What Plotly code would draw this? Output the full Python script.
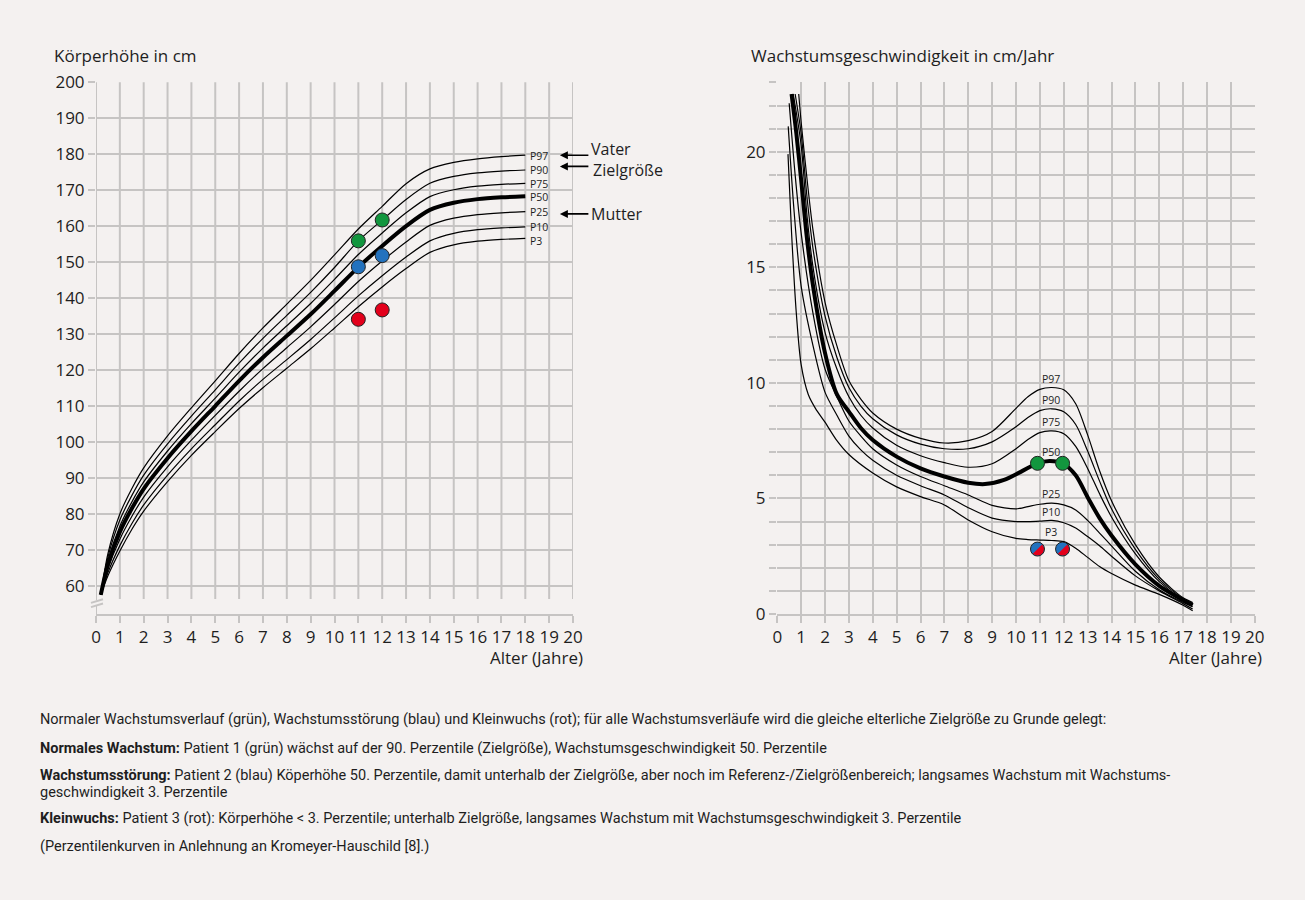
import math
import plotly.graph_objects as go

# ---------------- colours / fonts ----------------
BG = "#f4f1f0"
GRID = "#c6c4c3"
TXT = "#1e1e1e"
GREEN = "#12963e"
BLUE = "#2372be"
RED = "#e3001b"
FONT = "Open Sans"
CAP_FONT = "Roboto"

# ---------------- data: Körperhöhe (left) ----------------
AGE_H = [0.2, 0.5, 1, 1.5, 2, 3, 4, 5, 6, 7, 8, 9, 10, 11, 12, 13, 14, 15, 16, 17, 18]
H_P97 = [57.5, 69, 80, 87, 92.8, 101.7, 109.5, 117, 124.6, 131.7, 138.3, 144.9, 152, 159.2, 165.5, 171.8, 175.9, 177.7, 178.7, 179.3, 179.7]
H_P90 = [57.5, 68, 78.3, 85.1, 90.8, 99.5, 107.2, 114.5, 121.9, 128.8, 135.2, 141.6, 148.5, 155.9, 161.7, 167.4, 171.9, 173.8, 174.8, 175.3, 175.6]
H_P75 = [57.5, 67, 76.6, 83.3, 88.9, 97.5, 105.1, 112.2, 119.4, 126.1, 132.3, 138.5, 145.2, 152.1, 158.1, 163.7, 168.2, 170.1, 171.1, 171.6, 171.9]
H_P50 = [57.5, 66, 75, 81.5, 87, 95.5, 103, 110, 117, 123.5, 129.5, 135.5, 142, 148.6, 154.5, 160, 164.5, 166.5, 167.5, 168, 168.3]
H_P25 = [57.5, 64.8, 73, 79.3, 84.7, 93.1, 100.5, 107.4, 114.1, 120.4, 126.2, 132, 138.2, 144.6, 150.3, 155.6, 160.2, 162.2, 163.2, 163.7, 164]
H_P10 = [57.5, 63.7, 71.2, 77.3, 82.5, 90.8, 98.1, 104.8, 111.4, 117.4, 122.9, 128.5, 134.5, 140.6, 146.2, 151.4, 155.9, 158, 159, 159.5, 159.8]
H_P3 = [57.5, 62.8, 69.7, 75.7, 80.8, 89, 96.3, 102.9, 109.3, 115.1, 120.5, 125.9, 131.7, 137.6, 143.1, 148.2, 152.7, 154.8, 155.8, 156.3, 156.6]
H_CURVES = [("P97", H_P97), ("P90", H_P90), ("P75", H_P75), ("P50", H_P50),
            ("P25", H_P25), ("P10", H_P10), ("P3", H_P3)]
H_LABEL_Y = [179.5, 175.6, 171.7, 168.1, 163.9, 159.8, 156.0]

# patients (height)
PAT_AGE = [11, 12]
PAT_GREEN_H = [155.9, 161.7]
PAT_BLUE_H = [148.7, 151.8]
PAT_RED_H = [134.1, 136.7]

# parents
PARENT_NAMES = ["Vater", "Zielgröße", "Mutter"]
PARENT_H = [179.7, 176.6, 163.4]

# ---------------- data: Wachstumsgeschwindigkeit (right) ----------------
V_P97_AGE = [0.9, 1.0, 1.25, 1.5, 2, 2.5, 3, 3.5, 4, 5, 6, 7, 8, 9, 10, 10.5, 11, 11.5, 12, 12.5, 13, 13.5, 14, 15, 16, 17, 17.4]
V_P97 = [22.5, 21.3, 18.8, 16.6, 13.5, 11.6, 10.1, 9.3, 8.7, 8.0, 7.6, 7.4, 7.5, 7.9, 8.9, 9.4, 9.72, 9.8, 9.7, 9.1, 7.75, 6.2, 4.9, 3.0, 1.6, 0.7, 0.5]
V_P90_AGE = [0.75, 1.0, 1.25, 1.5, 2, 2.5, 3, 3.5, 4, 5, 6, 7, 8, 9, 10, 10.5, 11, 11.5, 12, 12.5, 13, 13.5, 14, 15, 16, 17, 17.4]
V_P90 = [22.5, 20.8, 18.0, 15.8, 12.9, 11.1, 9.8, 9.0, 8.45, 7.75, 7.35, 7.15, 7.15, 7.45, 8.1, 8.5, 8.8, 8.88, 8.75, 8.2, 7.05, 5.75, 4.55, 2.8, 1.5, 0.66, 0.46]
V_P75_AGE = [0.67, 1.0, 1.25, 1.5, 2, 2.5, 3, 3.5, 4, 5, 6, 7, 8, 9, 10, 10.5, 11, 11.5, 12, 12.5, 13, 13.5, 14, 15, 16, 17, 17.4]
V_P75 = [22.5, 20.3, 17.2, 15.0, 12.2, 10.6, 9.4, 8.6, 8.05, 7.3, 6.85, 6.55, 6.35, 6.5, 7.15, 7.55, 7.85, 7.92, 7.8, 7.25, 6.3, 5.2, 4.2, 2.6, 1.4, 0.62, 0.43]
V_P50_AGE = [0.6, 0.8, 1.0, 1.25, 1.5, 2, 2.5, 3, 3.5, 4, 5, 6, 7, 8, 8.7, 9.5, 10.2, 10.9, 11.4, 11.95, 12.5, 13, 13.5, 14, 15, 16, 17, 17.4]
V_P50 = [22.5, 20.8, 18.8, 16.2, 14.2, 11.3, 9.5, 8.76, 8.05, 7.53, 6.81, 6.3, 5.95, 5.68, 5.62, 5.8, 6.15, 6.52, 6.62, 6.52, 6.0, 5.05, 4.15, 3.4, 2.15, 1.22, 0.6, 0.38]
V_P25_AGE = [0.5, 0.75, 1.0, 1.5, 2, 2.5, 3, 3.5, 4, 5, 6, 7, 8, 9, 10, 10.5, 11, 11.5, 12, 12.5, 13, 13.5, 14, 15, 16, 17, 17.4]
V_P25 = [22.1, 19.0, 16.5, 13.0, 10.6, 9.4, 8.35, 7.7, 7.15, 6.45, 5.95, 5.55, 5.15, 4.7, 4.55, 4.65, 4.75, 4.8, 4.72, 4.5, 4.05, 3.5, 2.95, 1.85, 1.05, 0.5, 0.32]
V_P10_AGE = [0.46, 0.7, 1.0, 1.5, 2, 2.5, 3, 3.5, 4, 5, 6, 7, 8, 9, 10, 10.5, 11, 11.5, 12, 12.5, 13, 13.5, 14, 15, 16, 17, 17.4]
V_P10 = [21.1, 17.5, 14.2, 11.6, 9.6, 8.6, 7.7, 7.1, 6.65, 6.0, 5.55, 5.15, 4.6, 4.15, 4.0, 4.0, 4.02, 4.05, 3.95, 3.72, 3.35, 2.95, 2.5, 1.65, 1.0, 0.45, 0.22]
V_P3_AGE = [0.45, 0.6, 0.8, 1.0, 1.3, 1.6, 2, 2.5, 3, 4, 5, 6, 7, 8, 9, 10, 10.5, 11, 11.5, 12, 12.5, 13, 13.5, 14, 15, 16, 17, 17.4]
V_P3 = [19.9, 16.5, 13.0, 10.8, 9.5, 8.9, 8.3, 7.5, 6.9, 6.1, 5.5, 5.08, 4.72, 4.07, 3.56, 3.27, 3.22, 3.2, 3.18, 3.13, 2.85, 2.45, 2.05, 1.75, 1.25, 0.85, 0.38, 0.14]
V_CURVES = [("P97", V_P97_AGE, V_P97), ("P90", V_P90_AGE, V_P90), ("P75", V_P75_AGE, V_P75),
            ("P50", V_P50_AGE, V_P50), ("P25", V_P25_AGE, V_P25), ("P10", V_P10_AGE, V_P10),
            ("P3", V_P3_AGE, V_P3)]
V_LABEL_AGE = 11.45

# patients (velocity)
VPAT_AGE = [10.9, 11.95]
VPAT_GREEN = [6.52, 6.52]
VPAT_BLUE_RED = [2.81, 2.81]

# ---------------- ticks ----------------
X_TICKS = list(range(0, 21))
H_TICKS = list(range(60, 201, 10))
V_TICKS = list(range(0, 24))
V_TICKTEXT = [str(v) if v % 5 == 0 else "" for v in V_TICKS]

CAPTION = [
    "Normaler Wachstumsverlauf (grün), Wachstumsstörung (blau) und Kleinwuchs (rot); für alle Wachstumsverläufe wird die gleiche elterliche Zielgröße zu Grunde gelegt:",
    "<b>Normales Wachstum:</b> Patient 1 (grün) wächst auf der 90. Perzentile (Zielgröße), Wachstumsgeschwindigkeit 50. Perzentile",
    "<b>Wachstumsstörung:</b> Patient 2 (blau) Köperhöhe 50. Perzentile, damit unterhalb der Zielgröße, aber noch im Referenz-/Zielgrößenbereich; langsames Wachstum mit Wachstums-",
    "geschwindigkeit 3. Perzentile",
    "<b>Kleinwuchs:</b> Patient 3 (rot): Körperhöhe &lt; 3. Perzentile; unterhalb Zielgröße, langsames Wachstum mit Wachstumsgeschwindigkeit 3. Perzentile",
    "(Perzentilenkurven in Anlehnung an Kromeyer-Hauschild [8].)",
]
CAPTION_YPX = [719, 748, 775, 792, 818, 846]

# ---------------- layout geometry ----------------
W, H = 1305, 900
L_DOM = [96 / W, 573 / W]
R_DOM = [777 / W, 1255 / W]
Y_DOM = [(H - 614) / H, (H - 82) / H]
H_RANGE = [52.2, 200.05]
V_RANGE = [0, 23.02]

fig = go.Figure()

# ---- left curves
for name, vals in H_CURVES:
    fig.add_trace(go.Scatter(x=AGE_H, y=vals, mode="lines", xaxis="x", yaxis="y",
                             line=dict(color="black", width=4 if name == "P50" else 1.2,
                                       shape="spline", smoothing=0.8),
                             hoverinfo="skip"))
for ys, col in [(PAT_GREEN_H, GREEN), (PAT_BLUE_H, BLUE), (PAT_RED_H, RED)]:
    fig.add_trace(go.Scatter(x=PAT_AGE, y=ys, mode="markers", xaxis="x", yaxis="y",
                             marker=dict(size=14, color=col, line=dict(color="#222", width=1))))

# ---- right curves
for name, ages, vals in V_CURVES:
    fig.add_trace(go.Scatter(x=ages, y=vals, mode="lines", xaxis="x2", yaxis="y2",
                             line=dict(color="black", width=4 if name == "P50" else 1.2,
                                       shape="spline", smoothing=0.8),
                             hoverinfo="skip"))
fig.add_trace(go.Scatter(x=VPAT_AGE, y=VPAT_GREEN, mode="markers", xaxis="x2", yaxis="y2",
                         marker=dict(size=14, color=GREEN, line=dict(color="#222", width=1))))
fig.add_trace(go.Scatter(x=VPAT_AGE, y=VPAT_BLUE_RED, mode="markers", xaxis="x2", yaxis="y2",
                         marker=dict(size=14, color=BLUE, line=dict(width=0))))
# red lower-right half of the split dots
px_per_x = (R_DOM[1] - R_DOM[0]) * W / 20.02
px_per_y = (Y_DOM[1] - Y_DOM[0]) * H / (V_RANGE[1] - V_RANGE[0])
r_px = 6.6
for cx, cy in zip(VPAT_AGE, VPAT_BLUE_RED):
    xs, ys = [], []
    for k in range(25):
        a = math.radians(45 - 180 * k / 24)
        xs.append(cx + r_px * math.cos(a) / px_per_x)
        ys.append(cy + r_px * math.sin(a) / px_per_y)
    fig.add_trace(go.Scatter(x=xs, y=ys, mode="lines", fill="toself", fillcolor=RED,
                             line=dict(width=0, color=RED), xaxis="x2", yaxis="y2",
                             hoverinfo="skip"))
fig.add_trace(go.Scatter(x=VPAT_AGE, y=VPAT_BLUE_RED, mode="markers", xaxis="x2", yaxis="y2",
                         marker=dict(size=14, color="rgba(0,0,0,0)", line=dict(color="#222", width=1))))

# ---------------- shapes: left vertical grid with axis break ----------------
shapes = []
for xv in X_TICKS:
    if xv == 0:
        shapes.append(dict(type="line", xref="x", yref="y", x0=0, x1=0, y0=56.0, y1=200,
                           line=dict(color=GRID, width=2), layer="below"))
        shapes.append(dict(type="line", xref="x", yref="y", x0=0, x1=0, y0=H_RANGE[0], y1=54.5,
                           line=dict(color=GRID, width=2), layer="below"))
    else:
        shapes.append(dict(type="line", xref="x", yref="y", x0=xv, x1=xv, y0=56.4, y1=200,
                           line=dict(color=GRID, width=2), layer="below"))
for y0b in [54.1, 55.3]:
    shapes.append(dict(type="line", xref="paper", yref="y", x0=91 / W, x1=103 / W,
                       y0=y0b, y1=y0b + 1.0, line=dict(color=GRID, width=2)))

# ---------------- annotations ----------------
def py(ypx):
    return (H - ypx) / H

ann = []
ann.append(dict(text="Körperhöhe in cm", xref="paper", yref="paper", x=52 / W, y=py(55),
                xanchor="left", yanchor="middle", showarrow=False, font=dict(size=17, color=TXT)))
ann.append(dict(text="Wachstumsgeschwindigkeit in cm/Jahr", xref="paper", yref="paper", x=749 / W,
                y=py(55), xanchor="left", yanchor="middle", showarrow=False,
                font=dict(size=17, color=TXT)))
ann.append(dict(text="Alter (Jahre)", xref="paper", yref="paper", x=585 / W, y=py(658),
                xanchor="right", yanchor="middle", showarrow=False, font=dict(size=17, color=TXT)))
ann.append(dict(text="Alter (Jahre)", xref="paper", yref="paper", x=1264 / W, y=py(658),
                xanchor="right", yanchor="middle", showarrow=False, font=dict(size=17, color=TXT)))
# percentile labels left
for (name, vals), ly in zip(H_CURVES, H_LABEL_Y):
    ann.append(dict(text=name, xref="x", yref="y", x=AGE_H[-1] + 0.12, y=ly,
                    xanchor="left", yanchor="middle", showarrow=False,
                    font=dict(size=10.5, color=TXT)))
# percentile labels right
for name, ages, vals in V_CURVES:
    ref_i = min(range(len(ages)), key=lambda i: abs(ages[i] - 11.5))
    ann.append(dict(text=name, xref="x2", yref="y2", x=V_LABEL_AGE, y=vals[ref_i] + 0.38,
                    xanchor="center", yanchor="middle", showarrow=False,
                    font=dict(size=10.5, color=TXT)))
# parent arrows + texts
for pname, ph in zip(PARENT_NAMES, PARENT_H):
    ann.append(dict(text="", xref="x", yref="y", x=19.45, y=ph, ax=30, ay=0,
                    showarrow=True, arrowhead=2, arrowsize=1, arrowwidth=1.6, arrowcolor="black"))
for pname, tyx in zip(PARENT_NAMES, [(589, 149), (591, 170), (589, 214)]):
    ann.append(dict(text=pname, xref="paper", yref="paper", x=tyx[0] / W, y=py(tyx[1]),
                    xanchor="left", yanchor="middle", showarrow=False,
                    font=dict(size=16, color=TXT)))
# caption
for t, ypx in zip(CAPTION, CAPTION_YPX):
    ann.append(dict(text=t, xref="paper", yref="paper", x=38 / W, y=py(ypx), xanchor="left",
                    yanchor="middle", showarrow=False,
                    font=dict(family=CAP_FONT, size=14.5, color=TXT)))

axis_common = dict(ticks="outside", ticklen=7, tickwidth=2, tickcolor=GRID, zeroline=False,
                   automargin=False, tickfont=dict(size=17, color=TXT, family=FONT))

fig.update_layout(
    width=W, height=H, autosize=False, margin=dict(l=0, r=0, t=0, b=0, pad=0),
    paper_bgcolor=BG, plot_bgcolor=BG, showlegend=False,
    font=dict(family=FONT, size=17, color=TXT),
    xaxis=dict(domain=L_DOM, range=[0, 20], tickvals=X_TICKS, showgrid=False, showline=True,
               linecolor=GRID, linewidth=2, anchor="y", **axis_common),
    yaxis=dict(domain=Y_DOM, range=H_RANGE, tickvals=H_TICKS, showgrid=True, gridcolor=GRID,
               gridwidth=2, showline=False, anchor="x", **axis_common),
    xaxis2=dict(domain=R_DOM, range=[-0.01, 20.01], tickvals=X_TICKS, showgrid=True, gridcolor=GRID,
                gridwidth=2, showline=True, linecolor=GRID, linewidth=2, anchor="y2", **axis_common),
    yaxis2=dict(domain=Y_DOM, range=V_RANGE, tickvals=V_TICKS, ticktext=V_TICKTEXT, showgrid=True,
                gridcolor=GRID, gridwidth=2, showline=False, anchor="x2", **axis_common),
    shapes=shapes, annotations=ann,
)

POST = ("document.body.style.margin='0';document.body.style.padding='0';"
        "document.body.style.background='%s';document.documentElement.style.background='%s';"
        "document.body.style.overflow='hidden';" % (BG, BG))
fig.write_html("out.html", post_script=POST,
               config={"responsive": False, "displayModeBar": False})
